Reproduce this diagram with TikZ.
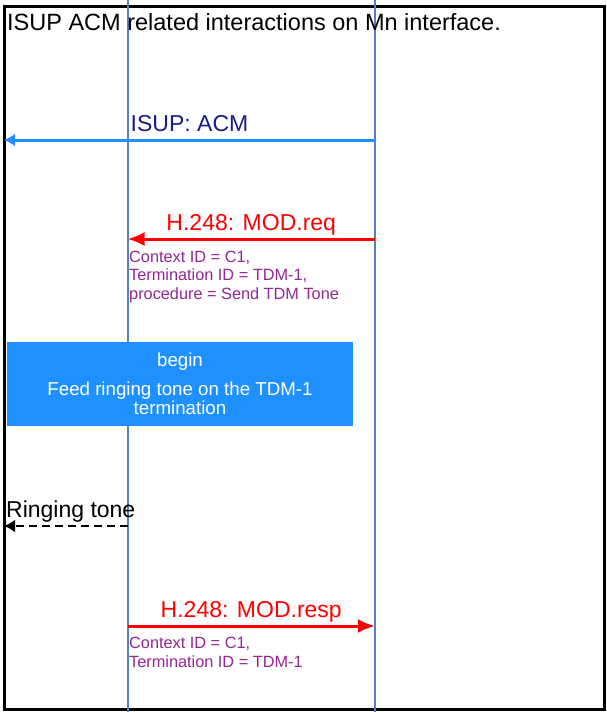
\documentclass[tikz,border=0pt]{standalone}
\usepackage{fontspec}
\setmainfont{Liberation Sans}
\usetikzlibrary{arrows.meta}

\definecolor{lifeblue}{RGB}{84,130,190}
\definecolor{acmblue}{RGB}{30,144,255}
\definecolor{acmnavy}{RGB}{26,26,140}
\definecolor{notepurple}{RGB}{148,38,148}

\begin{document}
\begin{tikzpicture}[x=1pt, y=-1pt,
    lifeline/.style={lifeblue, line width=2pt},
    msg/.style={line width=3pt, -{Latex[length=17pt,width=14pt]}},
    msglabel/.style={font=\fontsize{23}{26}\selectfont, anchor=base, yshift=9pt, inner sep=0pt},
    note/.style={notepurple, font=\fontsize{16.3}{18.5}\selectfont, align=left, anchor=base west, inner sep=0pt},
    actbox/.style={fill=acmblue, text=white, inner sep=0pt, minimum width=346pt, minimum height=84pt, align=center, font=\fontsize{18.7}{19}\selectfont}
]
    % Fix the margins and draw the frame
    \useasboundingbox (0,0) rectangle (607,712);
    \draw[line width=3pt] (4,6) rectangle (604,709);

    % Lifelines
    \coordinate (mgw-top) at (127.5,0);
    \coordinate (mgw-bot) at (127.5,712);
    \coordinate (mgcf-top) at (375,0);
    \coordinate (mgcf-bot) at (375,712);
    \draw[lifeline] (mgw-top) -- (mgw-bot);
    \draw[lifeline] (mgcf-top) -- (mgcf-bot);

    % Message end points
    \foreach \name/\y in {acm/140, req/239, tone/526, resp/626} {
        \coordinate (\name-pstn) at (4,\y);
        \coordinate (\name-mgw) at (127.5,\y);
        \coordinate (\name-mgcf) at (375,\y);
    }

    % Title
    \node[anchor=base west, inner sep=0pt, font=\fontsize{23.5}{26}\selectfont] (title) at (7,30)
        {ISUP ACM related interactions on Mn interface.};

    % ISUP: ACM
    \draw[msg, acmblue, -{Latex[length=11pt,width=13pt]}] (acm-mgcf) -- (acm-pstn)
        node[msglabel, acmnavy, midway] (acmlabel) {ISUP: ACM};

    % H.248: MOD.req (note placed by its last line)
    \draw[msg, red] (req-mgcf) -- (req-mgw)
        node[msglabel, midway] (reqlabel) {H.248: MOD.req};
    \node[note] (reqnote) at (129,299) {Context ID = C1,\\Termination ID = TDM-1,\\procedure = Send TDM Tone};

    % Feed ringing tone
    \node[actbox] (feed) at (180,384) {begin\\[10pt]Feed ringing tone on the TDM-1\\termination};

    % Ringing tone
    \draw[msg, black, line width=2.5pt, dash pattern=on 8pt off 5pt, -{Latex[length=11pt,width=13pt]}] (tone-mgw) -- (tone-pstn)
        node[msglabel, midway, xshift=5pt] (tonelabel) {Ringing tone};

    % H.248: MOD.resp
    \draw[msg, red] (resp-mgw) -- (resp-mgcf)
        node[msglabel, midway] (resplabel) {H.248: MOD.resp};
    \node[note] (respnote) at (129,667) {Context ID = C1,\\Termination ID = TDM-1};
\end{tikzpicture}
\end{document}
